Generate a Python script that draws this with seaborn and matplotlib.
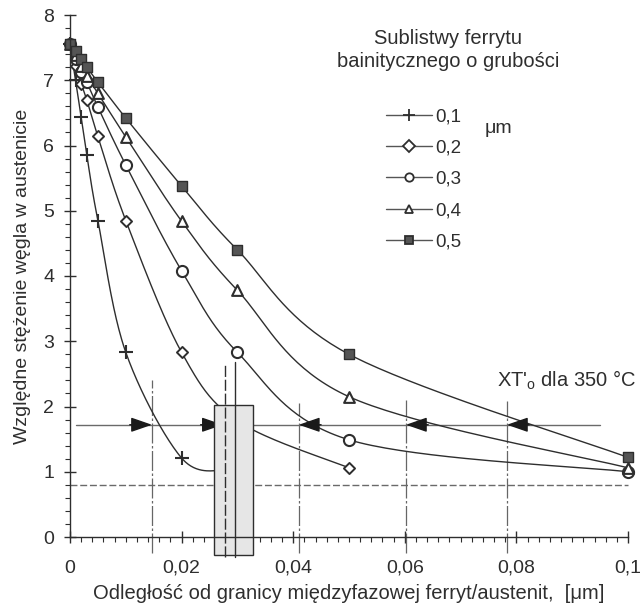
import numpy as np
import pandas as pd
import matplotlib
matplotlib.use("Agg")
import matplotlib.pyplot as plt
import seaborn as sns
from matplotlib.lines import Line2D
from matplotlib.patches import Rectangle
from matplotlib.ticker import MultipleLocator, FixedLocator, FixedFormatter

sns.set_style("ticks")
plt.rcParams["font.family"] = ["Liberation Sans", "DejaVu Sans"]
plt.rcParams["mathtext.fontset"] = "custom"
plt.rcParams["mathtext.rm"] = "Liberation Sans"

# ---------------- data ----------------
series_labels = ["0,1", "0,2", "0,3", "0,4", "0,5"]

x_01 = [0, 0.001, 0.002, 0.003, 0.005, 0.01, 0.02, 0.028]
y_01 = [7.55, 7.00, 6.43, 5.86, 4.85, 2.83, 1.21, 1.02]

x_02 = [0, 0.001, 0.002, 0.003, 0.005, 0.01, 0.02, 0.03, 0.05]
y_02 = [7.55, 7.22, 6.95, 6.70, 6.14, 4.85, 2.83, 1.78, 1.06]

x_03 = [0, 0.001, 0.002, 0.003, 0.005, 0.01, 0.02, 0.03, 0.05, 0.1]
y_03 = [7.55, 7.32, 7.12, 6.97, 6.59, 5.70, 4.08, 2.83, 1.49, 1.00]

x_04 = [0, 0.001, 0.002, 0.003, 0.005, 0.01, 0.02, 0.03, 0.05, 0.1]
y_04 = [7.55, 7.38, 7.22, 7.07, 6.80, 6.13, 4.84, 3.78, 2.15, 1.06]

x_05 = [0, 0.001, 0.002, 0.003, 0.005, 0.01, 0.02, 0.03, 0.05, 0.1]
y_05 = [7.55, 7.45, 7.32, 7.20, 6.97, 6.42, 5.38, 4.40, 2.80, 1.22]

x_ticks = [0, 0.02, 0.04, 0.06, 0.08, 0.1]
x_tick_labels = ["0", "0,02", "0,04", "0,06", "0,08", "0,1"]
y_ticks = [0, 1, 2, 3, 4, 5, 6, 7, 8]

xt_level = 1.72          # XT'o for 350 C
lower_level = 0.80
right_arrows = [0.0147, 0.0274]
left_arrows = [0.041, 0.0602, 0.0783]
guide_x = [0.0147, 0.041, 0.0602, 0.0783]
guide_top = [2.40, 2.05, 2.10, 2.08]
box_x = [0.0258, 0.0328]
box_y = [-0.28, 2.03]
box_lines_x = [0.0278, 0.0296]

# ---------------- helpers ----------------
def excel_smooth(xs, ys, n=40):
    """Excel-style smoothed line (Bezier through the points)."""
    p = np.column_stack([np.asarray(xs, float) / 0.1, np.asarray(ys, float) / 8.0])
    out = [p[0]]
    m = len(p)
    for i in range(m - 1):
        p0 = p[i - 1] if i > 0 else p[i]
        p1, p2 = p[i], p[i + 1]
        p3 = p[i + 2] if i + 2 < m else p[i + 1]
        c1 = p1 + (p2 - p0) / 6.0
        c2 = p2 - (p3 - p1) / 6.0
        t = np.linspace(0, 1, n)[1:, None]
        seg = ((1 - t) ** 3) * p1 + 3 * ((1 - t) ** 2) * t * c1 + 3 * (1 - t) * t ** 2 * c2 + t ** 3 * p2
        out.extend(seg)
    out = np.array(out)
    return out[:, 0] * 0.1, out[:, 1] * 8.0

ink = "#2e2e2e"
W, H = 643, 610
fig = plt.figure(figsize=(W / 100, H / 100), dpi=100)
ax = fig.add_axes([70 / W, 1 - 537 / H, 558 / W, 522 / H])

series = [
    (x_01, y_01, "+", dict(color=ink, s=100, linewidth=1.5)),
    (x_02, y_02, "D", dict(facecolor="white", edgecolor=ink, s=32, linewidth=1.4)),
    (x_03, y_03, "o", dict(facecolor="white", edgecolor=ink, s=64, linewidth=1.5)),
    (x_04, y_04, "^", dict(facecolor="white", edgecolor=ink, s=60, linewidth=1.5)),
    (x_05, y_05, "s", dict(facecolor="#555555", edgecolor=ink, s=44, linewidth=1.0)),
]

for xs, ys, mk, kw in series:
    sx, sy = excel_smooth(xs, ys)
    sns.lineplot(x=sx, y=sy, sort=False, estimator=None, color=ink, linewidth=1.0, ax=ax, zorder=3)
    sns.scatterplot(x=xs, y=ys, marker=mk, ax=ax, zorder=4, clip_on=False, **kw)

# XT'o line and lower dashed line
sns.lineplot(x=[0.001, 0.095], y=[xt_level, xt_level], color="#6a6a6a", linewidth=1.0, ax=ax, zorder=2)
ax.plot([0, 0.1], [lower_level, lower_level], color="#6a6a6a", linewidth=1.0,
        linestyle=(0, (5, 2)), zorder=2, clip_on=False)

# vertical guide lines
for gx, gt in zip(guide_x, guide_top):
    ax.plot([gx, gx], [-0.25, gt], color="#666666", linewidth=0.9,
            linestyle=(0, (16, 2, 2, 2)), zorder=2, clip_on=False)

# arrows on the XT'o line
for tip in right_arrows:
    ax.annotate("", xy=(tip, xt_level), xytext=(tip - 0.004, xt_level),
                arrowprops=dict(arrowstyle="-|>,head_length=1.3,head_width=0.45",
                                color="#1a1a1a", lw=1.0, mutation_scale=10, shrinkA=0, shrinkB=0),
                zorder=6)
for tip in left_arrows:
    ax.annotate("", xy=(tip, xt_level), xytext=(tip + 0.004, xt_level),
                arrowprops=dict(arrowstyle="-|>,head_length=1.3,head_width=0.45",
                                color="#1a1a1a", lw=1.0, mutation_scale=10, shrinkA=0, shrinkB=0),
                zorder=6)

# grey box
ax.add_patch(Rectangle((box_x[0], box_y[0]), box_x[1] - box_x[0], box_y[1] - box_y[0],
                       facecolor="#e6e6e6", edgecolor=ink, linewidth=1.0, zorder=7, clip_on=False))
ax.plot([box_lines_x[0]] * 2, [-0.3, 2.65], color=ink, linewidth=1.0,
        linestyle=(0, (8, 2)), zorder=8, clip_on=False)
ax.plot([box_lines_x[1]] * 2, [-0.3, 2.68], color=ink, linewidth=1.0, zorder=8, clip_on=False)

# axes styling
ax.set_xlim(0, 0.1)
ax.set_ylim(0, 8)
sns.despine(ax=ax)
for sp in ("left", "bottom"):
    ax.spines[sp].set_color(ink)
    ax.spines[sp].set_linewidth(1.0)
    ax.spines[sp].set_zorder(9)
ax.xaxis.set_major_locator(FixedLocator(x_ticks))
ax.xaxis.set_major_formatter(FixedFormatter(x_tick_labels))
ax.xaxis.set_minor_locator(MultipleLocator(0.002))
ax.yaxis.set_major_locator(FixedLocator(y_ticks))
ax.yaxis.set_minor_locator(MultipleLocator(0.2))
ax.tick_params(axis="both", which="major", direction="inout", length=9, width=1.0,
               color=ink, labelsize=14, labelcolor=ink)
ax.tick_params(axis="both", which="minor", direction="out", length=3.5, width=0.8, color=ink)
ax.tick_params(axis="x", which="major", pad=12)
ax.tick_params(axis="y", which="major", pad=7)

ax.set_xlabel("Odległość od granicy międzyfazowej ferryt/austenit,  [μm]",
              fontsize=14.5, color=ink, labelpad=5)
ax.set_ylabel("Względne stężenie węgla w austenicie", fontsize=14, color=ink, labelpad=9)

# annotation text
fig.text(636 / W, 1 - 380 / H, r"XT'$_\mathregular{o}$ dla 350 °C", ha="right", va="center",
         fontsize=14.5, color=ink)

# legend
fig.text(448 / W, 1 - 50 / H, "Sublistwy ferrytu\nbainitycznego o grubości", ha="center",
         va="center", fontsize=14.5, color=ink, linespacing=1.3)
handles = []
for (xs, ys, mk, kw), lab in zip(series, series_labels):
    fc = kw.get("facecolor", "none")
    handles.append(Line2D([0], [0], color="#555555", linewidth=1.0, marker=mk,
                          markersize=6 if mk != "+" else 8, markerfacecolor=fc,
                          markeredgecolor=ink, markeredgewidth=1.3, label=lab))
leg = ax.legend(handles=handles, loc="upper left", bbox_to_anchor=(386 / W, 1 - 108 / H),
                bbox_transform=fig.transFigure, frameon=False, fontsize=13.5,
                handlelength=2.45, handletextpad=0.15, labelspacing=0.76,
                borderpad=0, borderaxespad=0)
for t in leg.get_texts():
    t.set_color(ink)
fig.text(485 / W, 1 - 128 / H, "μm", ha="left", va="center", fontsize=14, color=ink)

fig.savefig("out.png", dpi=100, facecolor="white")
